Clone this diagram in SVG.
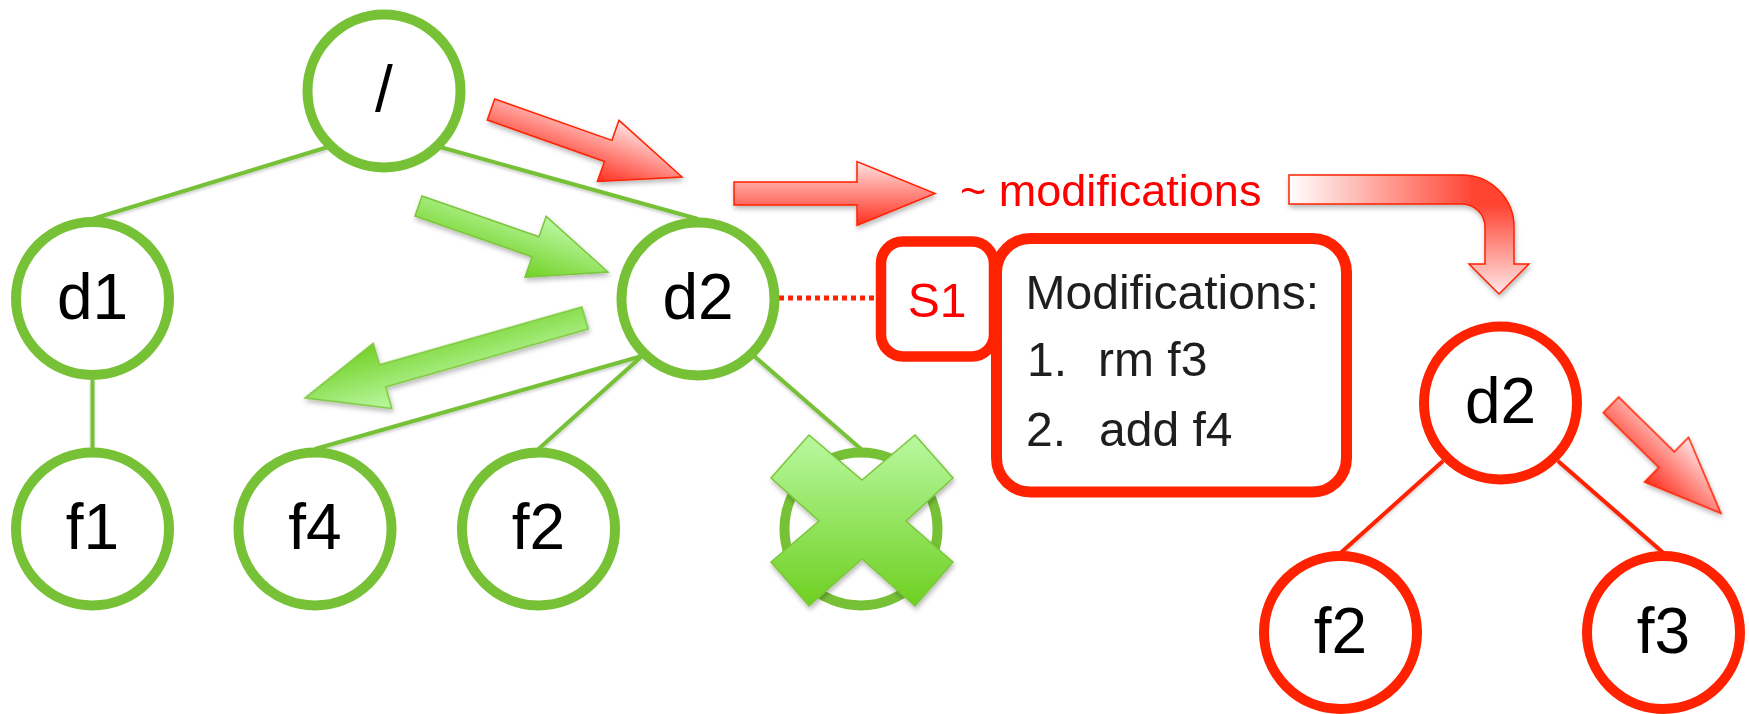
<svg xmlns="http://www.w3.org/2000/svg" width="1749" height="714" viewBox="0 0 1749 714">
<defs>
<style>
.gn{fill:#fff;stroke:#77c137;stroke-width:10}
.rn{fill:#fff;stroke:#ff2200;stroke-width:10}
.lbl{font-family:"Liberation Sans",Arial,sans-serif;font-size:64px;fill:#000;text-anchor:middle}
.ge{stroke:#77c137;stroke-width:4;fill:none}
.re{stroke:#ff2200;stroke-width:4;fill:none}
.ga{fill:url(#gG);stroke:#7cc63c;stroke-width:1.5}
.ra{fill:url(#gR);stroke:#ff2200;stroke-width:1.5}
.bt{font-family:"Liberation Sans",Arial,sans-serif;font-size:48px;fill:#1e1e1e}
</style>
<linearGradient id="gG" x1="0" y1="0" x2="0" y2="1">
<stop offset="0" stop-color="#bcf8a4"/>
<stop offset="1" stop-color="#72d126"/>
</linearGradient>
<linearGradient id="gR" x1="0" y1="0" x2="0" y2="1">
<stop offset="0" stop-color="#ffe4e4"/>
<stop offset="1" stop-color="#ff2e1e"/>
</linearGradient>
<linearGradient id="gX" x1="0" y1="0" x2="0" y2="1">
<stop offset="0" stop-color="#b9f8a0"/>
<stop offset="1" stop-color="#6ed020"/>
</linearGradient>
<linearGradient id="gCH" gradientUnits="userSpaceOnUse" x1="1289" y1="0" x2="1475" y2="0">
<stop offset="0" stop-color="#ffffff"/>
<stop offset="1" stop-color="#ff4433"/>
</linearGradient>
<linearGradient id="gCV" gradientUnits="userSpaceOnUse" x1="0" y1="205" x2="0" y2="294">
<stop offset="0" stop-color="#ff4433"/>
<stop offset="1" stop-color="#ffe8e8"/>
</linearGradient>
<clipPath id="cL"><rect x="1280" y="160" width="190" height="60"/></clipPath>
<clipPath id="cR"><rect x="1470" y="160" width="80" height="150"/></clipPath>
<path id="curve" d="M1289,175 H1462 A52,52 0 0 1 1514,227 V264 H1529 L1499,294 L1469,264 H1485 V227 A23,23 0 0 0 1462,204 H1289 Z"/>
<filter id="sh" x="-20%" y="-20%" width="140%" height="140%">
<feDropShadow dx="1" dy="3" stdDeviation="2.5" flood-color="#000" flood-opacity="0.28"/>
</filter>
<filter id="shl" x="-5%" y="-5%" width="110%" height="110%">
<feDropShadow dx="0" dy="2" stdDeviation="1.5" flood-color="#000" flood-opacity="0.2"/>
</filter>
</defs>
<rect width="1749" height="714" fill="#fff"/>

<g id="connectors">
<g filter="url(#shl)">
<line class="ge" x1="328" y1="147" x2="92.5" y2="219"/>
<line class="ge" x1="440" y1="147" x2="698" y2="219"/>
<line class="ge" x1="92.5" y1="380" x2="92.5" y2="449"/>
<line class="ge" x1="642" y1="356" x2="315" y2="449"/>
<line class="ge" x1="642" y1="356" x2="538.5" y2="449"/>
<line class="ge" x1="754" y1="356" x2="861" y2="449"/>
<line class="re" x1="1443" y1="461" x2="1340.5" y2="553"/>
<line class="re" x1="1558" y1="461" x2="1663.5" y2="553"/>
</g>
<line x1="779" y1="298" x2="876" y2="298" stroke="#ff2200" stroke-width="5" stroke-dasharray="5 4"/>
</g>

<g id="arrows" filter="url(#sh)">
<path class="ra" transform="translate(491,109.5) rotate(19.46)" d="M0,-11.2 L124.3,-11.2 L124.3,-32.4 L202.6,0 L124.3,32.4 L124.3,11.2 L0,11.2 Z"/>
<path class="ga" transform="translate(418.5,206) rotate(19.2)" d="M0,-10.6 L124,-10.6 L124,-32.2 L200.7,0 L124,32.2 L124,10.6 L0,10.6 Z"/>
<path class="ga" transform="translate(585,318) rotate(164.05)" d="M0,-11.4 L210.5,-11.4 L210.5,-33.9 L291.2,0 L210.5,33.9 L210.5,11.4 L0,11.4 Z"/>
<path class="ra" transform="translate(734,193.5)" d="M0,-11.5 L123,-11.5 L123,-32 L201,0 L123,32 L123,11.5 L0,11.5 Z"/>
<path class="ra" transform="translate(1611,404.9) rotate(44.6)" d="M0,-11.1 L78,-11.1 L78,-31.5 L154.4,0 L78,31.5 L78,11.1 L0,11.1 Z"/>
<g id="curved-arrow">
<use href="#curve" fill="url(#gCH)" clip-path="url(#cL)"/>
<use href="#curve" fill="url(#gCV)" clip-path="url(#cR)"/>
<use href="#curve" fill="none" stroke="#ff2200" stroke-width="1.5"/>
</g>
</g>

<text x="960" y="206" font-family="'Liberation Sans',Arial,sans-serif" font-size="45" fill="#ff0000">~ modifications</text>

<g id="n-root"><circle class="gn" cx="384" cy="91" r="76.5"/><text class="lbl" x="384" y="111">/</text></g>
<g id="n-d1"><circle class="gn" cx="92.5" cy="298.5" r="76.5"/><text class="lbl" x="92.5" y="318.5">d1</text></g>
<g id="n-d2"><circle class="gn" cx="698" cy="299" r="76.5"/><text class="lbl" x="698" y="319">d2</text></g>
<g id="n-f1"><circle class="gn" cx="92.5" cy="529" r="76.5"/><text class="lbl" x="92.5" y="549">f1</text></g>
<g id="n-f4"><circle class="gn" cx="315" cy="529" r="76.5"/><text class="lbl" x="315" y="549">f4</text></g>
<g id="n-f2"><circle class="gn" cx="538.5" cy="529" r="76.5"/><text class="lbl" x="538.5" y="549">f2</text></g>
<g id="n-f3"><circle class="gn" cx="861" cy="529" r="76.5"/>
<path filter="url(#sh)" fill="url(#gX)" stroke="#7cc63c" stroke-width="1.5" d="M809,435 L862,480 L915,435 L953,478 L906,521 L953,562 L915,606 L862,559 L809,606 L771,562 L819,521 L771,478 Z"/>
</g>

<g id="n-box">
<rect x="996.5" y="238.5" width="350" height="253.5" rx="34" fill="#fff" stroke="#ff2200" stroke-width="11"/>
<text class="bt" x="1025.5" y="309">Modifications:</text>
<text class="bt" x="1027" y="376">1.</text>
<text class="bt" x="1098" y="376">rm f3</text>
<text class="bt" x="1026" y="446">2.</text>
<text class="bt" x="1099" y="446">add f4</text>
</g>
<g id="n-s1">
<rect x="881" y="241.5" width="113" height="115" rx="22" fill="#fff" stroke="#ff2200" stroke-width="10.5"/>
<text x="937" y="317" font-family="'Liberation Sans',Arial,sans-serif" font-size="48" fill="#ff0000" text-anchor="middle">S1</text>
</g>

<g id="r-d2"><circle class="rn" cx="1500.5" cy="403" r="76.5"/><text class="lbl" x="1500.5" y="423">d2</text></g>
<g id="r-f2"><circle class="rn" cx="1340.5" cy="632.5" r="76.5"/><text class="lbl" x="1340.5" y="652.5">f2</text></g>
<g id="r-f3"><circle class="rn" cx="1663.5" cy="632.5" r="76.5"/><text class="lbl" x="1663.5" y="652.5">f3</text></g>
</svg>
